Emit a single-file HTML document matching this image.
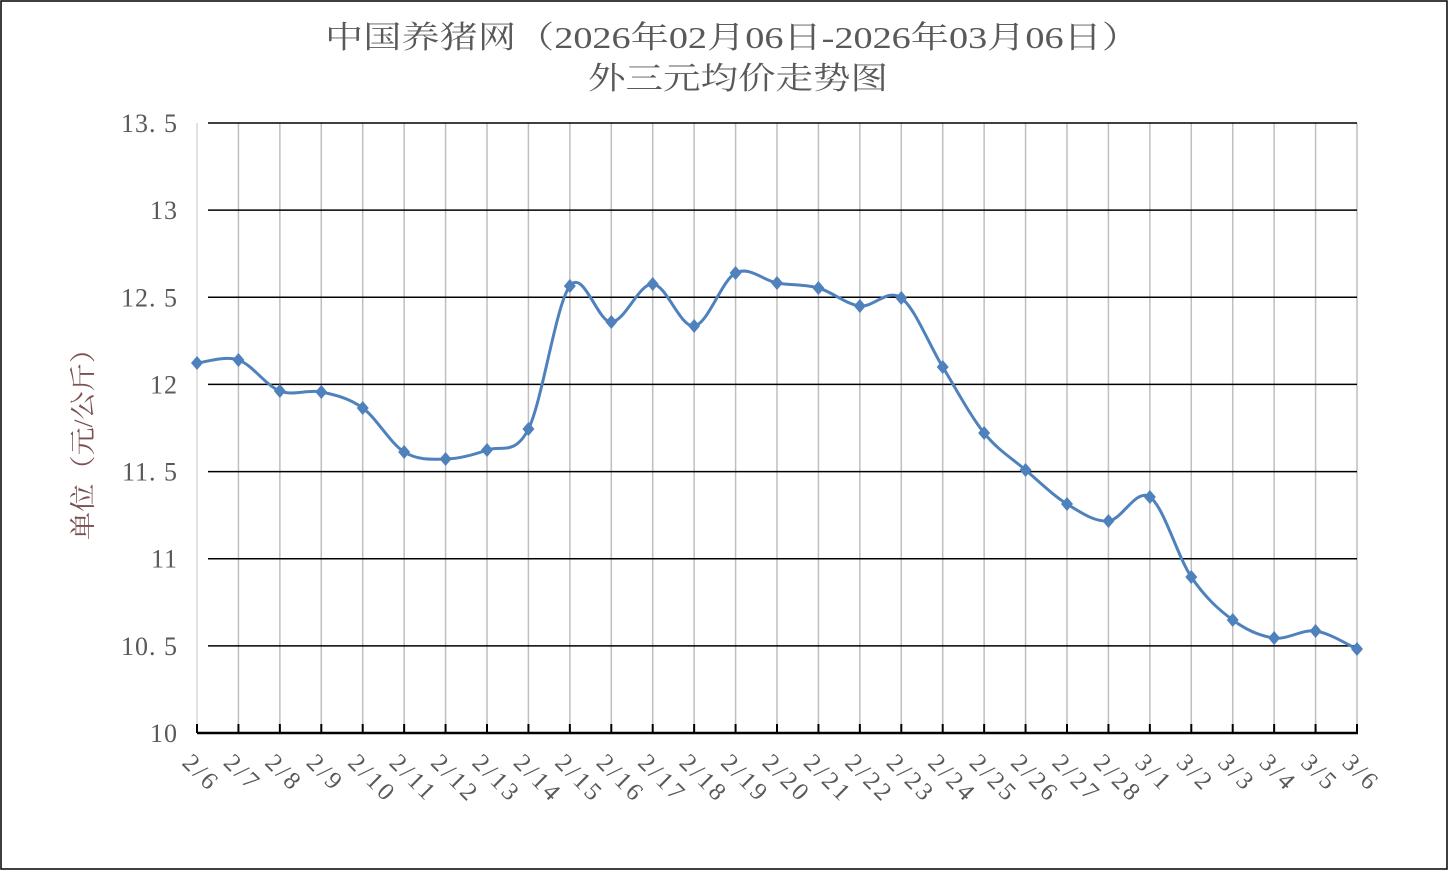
<!DOCTYPE html>
<html><head><meta charset="utf-8"><style>
html,body{margin:0;padding:0;background:#fff;}
svg text{font-family:"Liberation Serif","Noto Serif CJK SC",serif;fill:#595959;}
</style></head><body>
<svg id="s" width="1449" height="871" xmlns="http://www.w3.org/2000/svg">
<rect x="1" y="1" width="1446" height="868" fill="#fff" stroke="#000" stroke-width="1.5"/>
<text x="325" y="48" font-size="31" textLength="815" lengthAdjust="spacingAndGlyphs">中国养猪网（2026年02月06日-2026年03月06日）</text>
<text x="588" y="89" font-size="31" textLength="300" lengthAdjust="spacingAndGlyphs">外三元均价走势图</text>
<text transform="translate(92,540) rotate(-90)" font-size="26" textLength="205" lengthAdjust="spacingAndGlyphs" style="fill:#7a5050">单位（元/公斤）</text>
<g id="g"></g>
</svg>
<script>
var ns="http://www.w3.org/2000/svg",g=document.getElementById('g');
function el(t,a,txt){var e=document.createElementNS(ns,t);for(var k in a)e.setAttribute(k,a[k]);if(txt)e.textContent=txt;g.appendChild(e);return e;}
var x0=197,x1=1357,dx=(x1-x0)/28,y0=123,ppu=(733-123)/3.5;
for(var i=0;i<29;i++){var x=x0+i*dx;el('line',{x1:x,y1:123,x2:x,y2:733,stroke:i==0?'#d9d9d9':'#bfbfbf','stroke-width':1.5});}
var yl=['13.5','13','12.5','12','11.5','11','10.5','10'];
for(var j=0;j<8;j++){var y=y0+j*ppu*0.5;
 if(j<7)el('line',{x1:208,y1:y,x2:1357,y2:y,stroke:'#000','stroke-width':1.5});
 var s=yl[j].replace('.','. ');
 el('text',{x:178,y:y+9,'font-size':26,'text-anchor':'end','letter-spacing':1},s);}
el('line',{x1:197,y1:733,x2:1358,y2:733,stroke:'#000','stroke-width':2.5});
var labs=[];for(var d=6;d<=28;d++)labs.push('2/'+d);for(var d=1;d<=6;d++)labs.push('3/'+d);
for(var i=0;i<29;i++){var x=x0+i*dx;el('line',{x1:x,y1:724,x2:x,y2:733,stroke:'#000','stroke-width':2});
 el('text',{transform:'translate('+(x-16)+',764) rotate(45)','font-size':25,'letter-spacing':3},labs[i]);}
var ys=[363,360,391,392,408,452,459,450,429,286,322,284,326,273,283,288,306,298,367,433,470,504,521,497,577,620,638,631,649];
var P=ys.map(function(y,i){return [x0+i*dx,y];});
var d='M'+P[0][0]+','+P[0][1];
for(var i=0;i<28;i++){var p0=P[Math.max(i-1,0)],p1=P[i],p2=P[i+1],p3=P[Math.min(i+2,28)],t=6;
 d+=' C'+(p1[0]+(p2[0]-p0[0])/t)+','+(p1[1]+(p2[1]-p0[1])/t)+' '+(p2[0]-(p3[0]-p1[0])/t)+','+(p2[1]-(p3[1]-p1[1])/t)+' '+p2[0]+','+p2[1];}
el('path',{d:d,fill:'none',stroke:'#4f81bd','stroke-width':3});
P.forEach(function(p){el('polygon',{points:(p[0])+','+(p[1]-7)+' '+(p[0]+6)+','+p[1]+' '+p[0]+','+(p[1]+7)+' '+(p[0]-6)+','+p[1],fill:'#4f81bd'});});
</script>
</body></html>
